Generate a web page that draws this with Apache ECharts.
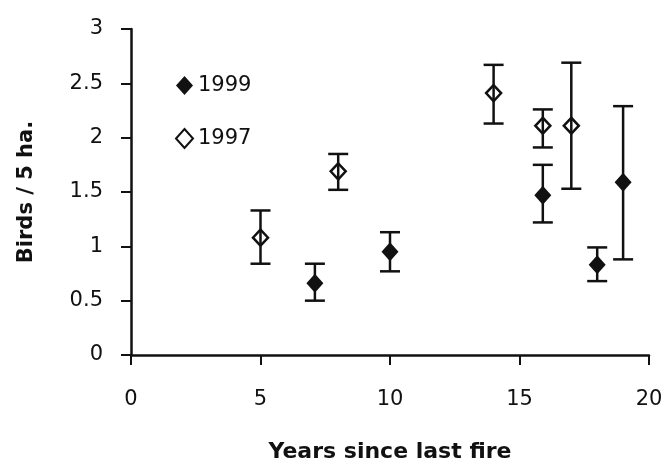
<!DOCTYPE html>
<html>
<head>
<meta charset="utf-8">
<script src="https://cdn.jsdelivr.net/npm/echarts@6/dist/echarts.min.js"></script>
<style>html,body{margin:0;padding:0;background:#fff}#c{width:661px;height:461px}</style>
</head>
<body>
<div id="c"></div>
<script>
// 1999 survey
const years1999 = [7.1, 10, 15.9, 18, 19];
const birds1999 = [0.66, 0.95, 1.47, 0.83, 1.59];
const low1999   = [0.50, 0.77, 1.22, 0.68, 0.88];
const high1999  = [0.84, 1.13, 1.75, 0.99, 2.29];
// 1997 survey
const years1997 = [5, 8, 14, 15.9, 17];
const birds1997 = [1.08, 1.69, 2.41, 2.11, 2.11];
const low1997   = [0.84, 1.52, 2.13, 1.91, 1.53];
const high1997  = [1.33, 1.85, 2.67, 2.26, 2.69];

const xTicks = [0, 5, 10, 15, 20];
const yTicks = [0, 0.5, 1, 1.5, 2, 2.5, 3];

const FONT = 'DejaVu Sans';
const INK = '#111';

function pts(xs, ys) { return xs.map((x, i) => [x, ys[i]]); }
function bars(xs, lo, hi) { return xs.map((x, i) => [x, lo[i], hi[i]]); }

function renderErr(params, api) {
  const x = api.value(0);
  const lo = api.coord([x, api.value(1)]);
  const hi = api.coord([x, api.value(2)]);
  const hw = 10;
  const st = { stroke: INK, lineWidth: 2.5 };
  return {
    type: 'group',
    children: [
      { type: 'line', shape: { x1: lo[0], y1: lo[1], x2: hi[0], y2: hi[1] }, style: st },
      { type: 'line', shape: { x1: lo[0] - hw, y1: lo[1], x2: lo[0] + hw, y2: lo[1] }, style: st },
      { type: 'line', shape: { x1: hi[0] - hw, y1: hi[1], x2: hi[0] + hw, y2: hi[1] }, style: st }
    ]
  };
}

const chart = echarts.init(document.getElementById('c'), null, { renderer: 'canvas' });
chart.setOption({
  backgroundColor: '#fff',
  animation: false,
  grid: { left: 131, right: 12, top: 29, bottom: 106, containLabel: false, outerBoundsMode: 'none' },
  legend: {
    data: ['1999', '1997'],
    orient: 'vertical',
    left: 170,
    top: 70,
    itemWidth: 17,
    itemHeight: 19,
    itemGap: 32,
    textStyle: { fontFamily: FONT, fontSize: 21, color: INK, padding: [0, 0, 0, 0] }
  },
  xAxis: {
    type: 'value',
    min: xTicks[0], max: xTicks[xTicks.length - 1], interval: 5,
    name: 'Years since last fire',
    nameLocation: 'middle',
    nameGap: 86,
    nameTextStyle: { fontFamily: FONT, fontSize: 22, fontWeight: 'bold', color: INK },
    axisLine: { show: true, onZero: false, lineStyle: { color: INK, width: 2.5 } },
    axisTick: { show: true, length: 10, lineStyle: { color: INK, width: 2 } },
    axisLabel: { fontFamily: FONT, fontSize: 21, color: INK, margin: 34 },
    splitLine: { show: false }
  },
  yAxis: {
    type: 'value',
    min: yTicks[0], max: yTicks[yTicks.length - 1], interval: 0.5,
    name: 'Birds / 5 ha.',
    nameLocation: 'middle',
    nameGap: 94,
    nameTextStyle: { fontFamily: FONT, fontSize: 21, fontWeight: 'bold', color: INK },
    axisLine: { show: true, onZero: false, lineStyle: { color: INK, width: 2.5 } },
    axisTick: { show: true, length: 10, lineStyle: { color: INK, width: 2 } },
    axisLabel: { fontFamily: FONT, fontSize: 21, color: INK, margin: 28, padding: [0, 0, 6, 0] },
    splitLine: { show: false }
  },
  series: [
    {
      type: 'custom',
      renderItem: renderErr,
      data: bars(years1999, low1999, high1999),
      encode: { x: 0, y: [1, 2] },
      z: 1,
      silent: true
    },
    {
      type: 'custom',
      renderItem: renderErr,
      data: bars(years1997, low1997, high1997),
      encode: { x: 0, y: [1, 2] },
      z: 3,
      silent: true
    },
    {
      name: '1999',
      type: 'scatter',
      symbol: 'diamond',
      symbolSize: [17, 19],
      itemStyle: { color: INK, borderColor: INK, borderWidth: 0, opacity: 1 },
      data: pts(years1999, birds1999),
      z: 2
    },
    {
      name: '1997',
      type: 'scatter',
      symbol: 'diamond',
      symbolSize: [15, 16],
      itemStyle: { color: '#fff', borderColor: INK, borderWidth: 2.5, opacity: 1 },
      data: pts(years1997, birds1997),
      z: 2
    }
  ]
});
</script>
</body>
</html>
